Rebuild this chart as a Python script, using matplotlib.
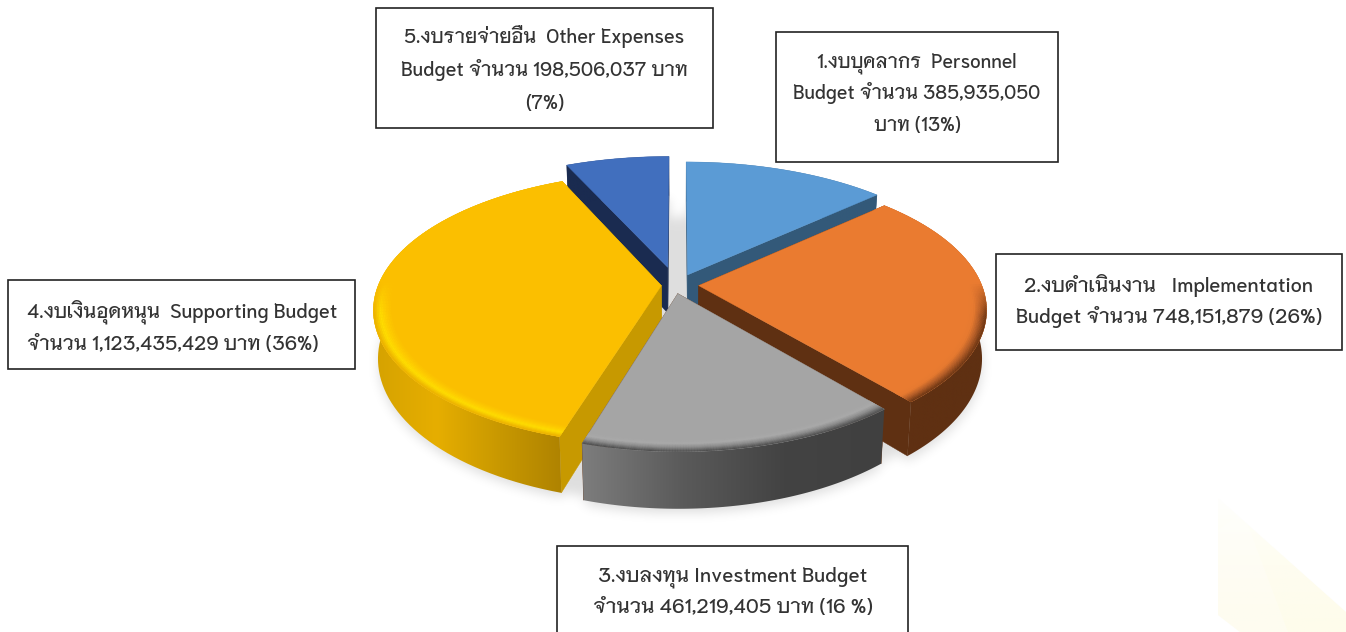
import numpy as np
import matplotlib
matplotlib.use("Agg")
import matplotlib.pyplot as plt
from matplotlib.collections import PolyCollection
from matplotlib.colors import LinearSegmentedColormap, to_rgb
from matplotlib.patches import Polygon, Rectangle
from matplotlib.path import Path

plt.rcParams['font.family'] = ['Niramit', 'Sarabun', 'Noto Sans Thai', 'DejaVu Sans']

# งบประมาณ (บาท)
budgets = [385935050, 748151879, 461219405, 1123435429, 198506037]
explode = [0.085, 0.066, 0.066, 0.066, 0.14]
shift_x = [-2, 0, -6, 0, -4]
radius_scale = [1.03, 1.0, 0.975, 1.0, 1.03]
top_colors = ['#5B9BD5', '#EA7B30', '#A5A5A5', '#FBBF00', '#416FBE']
face_colors = ['#335979', '#5F3012', '#5F3012', '#C79900', '#1A2B50']
wall_colors = [['#335979', '#335979'],
               ['#5F3012', '#5F3012'],
               ['#7D7D7D', '#5A5A5A', '#434343', '#404040'],
               ['#D5A200', '#E6AE00', '#C89800', '#AE8200'],
               ['#1A2B50', '#1A2B50']]
bevel_colors = [None,
                ['#EA7B30', '#E67A30', '#B05C28', '#6E3715'],
                ['#A5A5A5', '#ABABAB', '#8A8A8A', '#505050'],
                ['#FBBF00', '#FFCC00', '#FFDF00', '#EDB400'],
                None]
# ลำดับการวาด หลังไปหน้า
draw_order = [4, 0, 3, 1, 2]

label_lines = [['1.งบบุคลากร  Personnel', 'Budget จำนวน 385,935,050', 'บาท (13%)'],
               ['2.งบดำเนินงาน   Implementation', 'Budget จำนวน 748,151,879 (26%)'],
               ['3.งบลงทุน Investment Budget', 'จำนวน 461,219,405 บาท (16 %)'],
               ['4.งบเงินอุดหนุน  Supporting Budget', 'จำนวน 1,123,435,429 บาท (36%)'],
               ['5.งบรายจ่ายอื่น  Other Expenses', 'Budget จำนวน 198,506,037 บาท', '(7%)']]
label_sizes = [13.8, 14.5, 14.5, 14.2, 14]
# x0, y0, x1, y1, baseline ของแต่ละบรรทัด
label_boxes = [(776, 32, 1058, 162, [67, 99, 131]),
               (996, 254, 1342, 350, [292, 323]),
               (557, 546, 908, 640, [581, 613]),
               (8, 280, 355, 369, [318, 350]),
               (376, 8, 713, 128, [43, 76, 109])]

CX, CY = 680, 285
A, B, P, H = 283, 132, 0.17, 47


def project(x, y, z=0.0):
    s = 1 / (1 + P * y)
    return CX + A * x * s * (1 - 0.015 * z), CY - B * y * s + H * z * s


def arc(i, r=1.0, z=0.0, n=80):
    a0, a1, e = edges[i], edges[i + 1], explode[i]
    mid = np.radians((a0 + a1) / 2)
    ex, ey = e * np.cos(mid), e * np.sin(mid)
    t = np.radians(np.linspace(a0, a1, n))
    r = r * radius_scale[i]
    px, py = project(ex + r * np.cos(t), ey + r * np.sin(t), z)
    return np.column_stack([px + shift_x[i], py]), t


def slice_outline(i, z=0.0):
    mid = np.radians((edges[i] + edges[i + 1]) / 2)
    apex = project(explode[i] * np.cos(mid), explode[i] * np.sin(mid), z)
    return np.vstack([[apex[0] + shift_x[i], apex[1]], arc(i, z=z)[0]])


fig = plt.figure(figsize=(13.46, 6.32), dpi=100)
ax = fig.add_axes([0, 0, 1, 1])
ax.set_axis_off()

fractions = np.array(budgets) / sum(budgets)
edges = 90 - 360 * np.r_[0, np.cumsum(fractions)]

# ลายน้ำมุมล่างขวา
wm = np.linspace(0, 1, 64).reshape(-1, 1)
wm_cmap = LinearSegmentedColormap.from_list('wm', ['#FFFFFD', '#FEFDF0', '#FEFCEB'])
wm_im = ax.imshow(wm, extent=[1218, 1346, 632, 498], cmap=wm_cmap, aspect='auto', zorder=0)
wm_clip = Polygon([(1218, 498), (1346, 612), (1346, 632), (1240, 632), (1218, 615)], transform=ax.transData)
wm_im.set_clip_path(wm_clip)
ax.add_patch(Polygon([(1243, 512), (1288, 632), (1240, 632), (1218, 615), (1218, 530)],
                     facecolor='white', alpha=0.25, edgecolor='none', zorder=0.1))

# เงาใต้วงกลม
gx, gy = np.meshgrid(np.arange(330, 1030), np.arange(140, 560))
pts = np.column_stack([gx.ravel(), gy.ravel()])
mask = np.zeros(gx.shape)
t_full = np.linspace(0, 2 * np.pi, 200)
outlines = [np.column_stack(project(np.cos(t_full), np.sin(t_full), 1.0))]
for i in range(5):
    outlines.append(slice_outline(i, z=1.0))
for o in outlines:
    inside = Path(o + [0, 4]).contains_points(pts).reshape(gx.shape)
    mask = np.maximum(mask, inside.astype(float))
kernel = np.exp(-np.arange(-16, 17) ** 2 / (2 * 5.5 ** 2))
kernel /= kernel.sum()
mask = np.apply_along_axis(lambda v: np.convolve(v, kernel, mode='same'), 0, mask)
mask = np.apply_along_axis(lambda v: np.convolve(v, kernel, mode='same'), 1, mask)
shadow = np.zeros(mask.shape + (4,))
shadow[..., 3] = mask * 0.13
ax.imshow(shadow, extent=[330, 1030, 560, 140], aspect='auto', zorder=1, interpolation='bilinear')

z = 2
for i in draw_order:
    # ด้านตัด
    top = slice_outline(i)
    bottom = slice_outline(i, z=1.0)
    for p, q in ((0, 1), (0, -1)):
        quad = [top[p], top[q], bottom[q], bottom[p]]
        ax.add_patch(Polygon(quad, facecolor=face_colors[i], edgecolor=face_colors[i], lw=0.3, zorder=z))
    z += 1

    # ผนังโค้ง
    upper, _ = arc(i)
    lower, _ = arc(i, z=1.0)
    wall = np.vstack([upper, lower[::-1]])
    grad = np.linspace(0, 1, 256).reshape(1, -1)
    cmap = LinearSegmentedColormap.from_list(f'w{i}', wall_colors[i])
    x0, x1 = wall[:, 0].min(), wall[:, 0].max()
    y0, y1 = wall[:, 1].min(), wall[:, 1].max()
    im = ax.imshow(grad, extent=[x0, x1, y1, y0], cmap=cmap, aspect='auto', zorder=z)
    im.set_clip_path(Polygon(wall, transform=ax.transData))
    z += 1

    # หน้าบน
    ax.add_patch(Polygon(top, facecolor=top_colors[i], edgecolor=top_colors[i], lw=0.3, zorder=z))
    z += 1

    # ขอบมน
    if bevel_colors[i] is not None:
        steps = 12
        radii = np.linspace(0.935, 1.0, steps + 1)
        prof = LinearSegmentedColormap.from_list(f'b{i}', bevel_colors[i])
        base = np.array(to_rgb(top_colors[i]))
        quads, cols = [], []
        for k in range(steps):
            inner, t = arc(i, r=radii[k], n=120)
            outer, _ = arc(i, r=radii[k + 1], n=120)
            c = np.array(prof(k / (steps - 1))[:3])
            for j in range(len(t) - 1):
                w = np.clip(-np.sin(t[j]) * 4 + 0.1, 0, 1)
                quads.append([inner[j], inner[j + 1], outer[j + 1], outer[j]])
                cols.append(base * (1 - w) + c * w)
        ax.add_collection(PolyCollection(quads, facecolors=cols, edgecolors='face', linewidths=0.2, zorder=z))
        z += 1

# กล่องข้อความ
for i, (x0, y0, x1, y1, line_y) in enumerate(label_boxes):
    ax.add_patch(Rectangle((x0, y0), x1 - x0, y1 - y0, facecolor='white', edgecolor='#222222',
                           lw=1.2, zorder=50))
    for line, ly in zip(label_lines[i], line_y):
        if i == 3:
            ax.text(x0 + 19, ly, line, fontsize=label_sizes[i], fontweight='medium', color='#333333',
                    ha='left', va='baseline', zorder=51)
        else:
            ax.text((x0 + x1) / 2, ly, line, fontsize=label_sizes[i], fontweight='medium', color='#333333',
                    ha='center', va='baseline', zorder=51)

ax.set_xlim(0, 1346)
ax.set_ylim(632, 0)
fig.savefig("out.png", dpi=100, facecolor='white')
